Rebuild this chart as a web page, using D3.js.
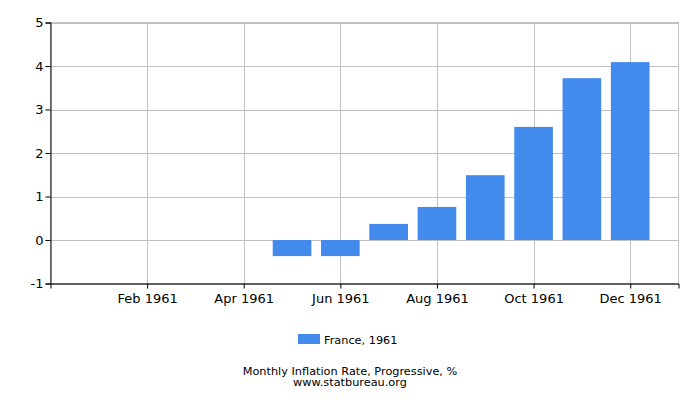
<!DOCTYPE html>
<html>
<head>
<meta charset="utf-8">
<style>
  body { margin: 0; background: #fff; }
  text { font-family: "DejaVu Sans", sans-serif; }
</style>
</head>
<body>
<svg width="700" height="400"></svg>
<script src="https://d3js.org/d3.v7.min.js"></script>
<script>

var months = ["Jan 1961", "Feb 1961", "Mar 1961", "Apr 1961", "May 1961", "Jun 1961",
              "Jul 1961", "Aug 1961", "Sep 1961", "Oct 1961", "Nov 1961", "Dec 1961"];
var values = [0, 0, 0, 0, -0.37, -0.37, 0.37, 0.76, 1.49, 2.6, 3.72, 4.09];
var yTicks = [-1, 0, 1, 2, 3, 4, 5];
var seriesName = "France, 1961";
var title = "Monthly Inflation Rate, Progressive, %";
var source = "www.statbureau.org";

var svg = d3.select("svg"),
    plotL = 50.5, plotR = 678.5, plotT = 22.5, plotB = 283.5,
    barColor = "#428bed", gridColor = "#c0c0c0";

var x = d3.scaleLinear().domain([0, months.length + 1]).range([plotL, plotR]);
var y = d3.scaleLinear().domain([-1, 5]).range([plotB, plotT]);
var step = x(1) - x(0),
    barW = step * 0.8;

// grid
var grid = svg.append("g");
grid.selectAll("line.h")
    .data(yTicks)
  .enter().append("line")
    .attr("x1", plotL).attr("x2", plotR)
    .attr("y1", function(d) { return Math.round(y(d)) + 0.5; })
    .attr("y2", function(d) { return Math.round(y(d)) + 0.5; })
    .attr("stroke", gridColor);
grid.selectAll("line.v")
    .data([2, 4, 6, 8, 10, 12])
  .enter().append("line")
    .attr("x1", function(d) { return Math.round(x(d)) + 0.5; })
    .attr("x2", function(d) { return Math.round(x(d)) + 0.5; })
    .attr("y1", plotT).attr("y2", plotB)
    .attr("stroke", gridColor);
svg.append("rect")
    .attr("x", plotL).attr("y", plotT)
    .attr("width", plotR - plotL).attr("height", plotB - plotT)
    .attr("fill", "none").attr("stroke", gridColor);

// bars
svg.append("g").selectAll("rect")
    .data(values.map(function(v, i) { return {m: months[i], v: v, i: i}; }))
  .enter().append("rect")
    .attr("x", function(d) { return x(d.i + 1) - barW / 2; })
    .attr("width", barW)
    .attr("y", function(d) { return y(Math.max(0, d.v)); })
    .attr("height", function(d) { return Math.abs(y(d.v) - y(0)); })
    .attr("fill", barColor);

// axes
var yAxis = svg.append("g")
    .attr("transform", "translate(" + plotL + ",0)")
    .call(d3.axisLeft(y).tickValues(yTicks).tickSize(5).tickPadding(2)
      .tickFormat(function(d) { return String(d); }));
yAxis.select(".domain").attr("stroke", "#000");
yAxis.selectAll("text").attr("font-size", 13).attr("fill", "#000");

var xAxis = svg.append("g")
    .attr("transform", "translate(0," + plotB + ")")
    .call(d3.axisBottom(x)
      .tickValues([2, 4, 6, 8, 10, 12])
      .tickSize(5).tickPadding(5)
      .tickFormat(function(d) { return months[d - 1]; }));
xAxis.select(".domain").attr("stroke", "#000");
xAxis.selectAll("text").attr("font-size", 13).attr("fill", "#000");

// legend
svg.append("rect")
    .attr("x", 298).attr("y", 334).attr("width", 22).attr("height", 10)
    .attr("fill", barColor);
svg.append("text")
    .attr("x", 324).attr("y", 344)
    .attr("font-size", 11.3)
    .text(seriesName);

svg.append("text")
    .attr("x", 350).attr("y", 375)
    .attr("text-anchor", "middle")
    .attr("font-size", 11.3)
    .text(title);
svg.append("text")
    .attr("x", 350).attr("y", 385.5)
    .attr("text-anchor", "middle")
    .attr("font-size", 11.3)
    .text(source);

</script>
</body>
</html>
